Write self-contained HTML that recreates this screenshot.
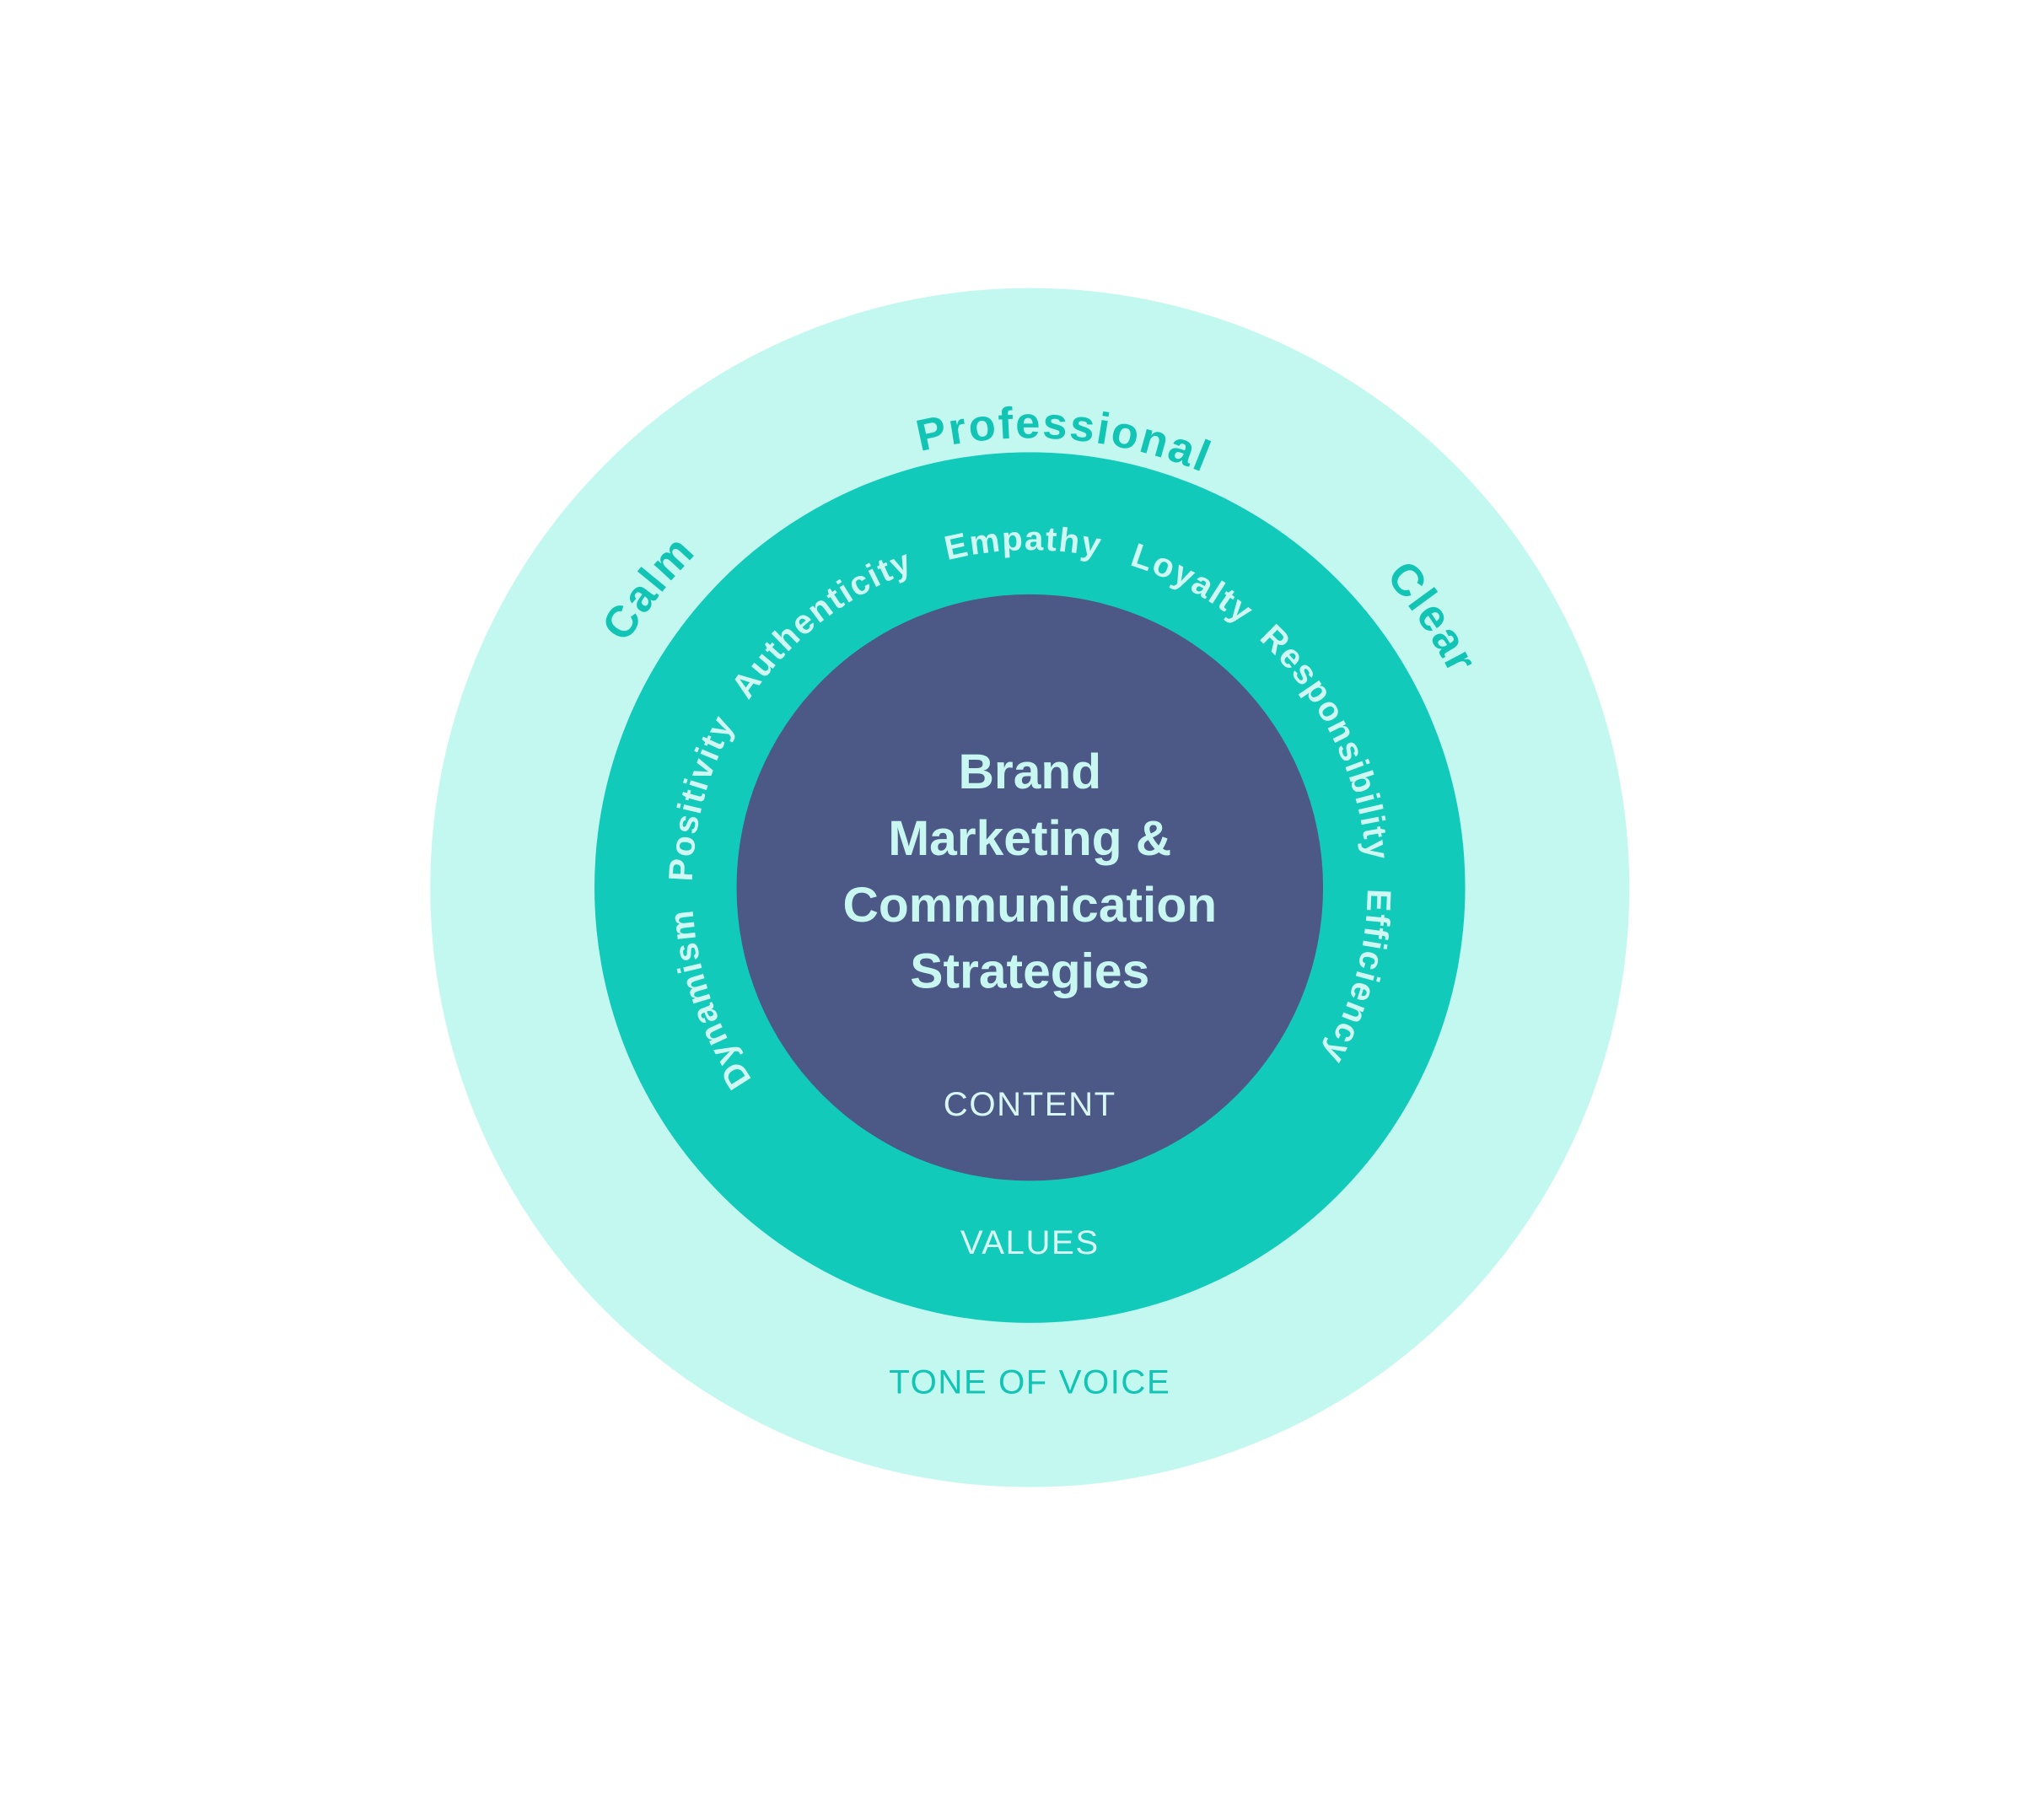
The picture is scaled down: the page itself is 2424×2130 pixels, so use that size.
<!DOCTYPE html>
<html><head><meta charset="utf-8"><style>
html,body{margin:0;padding:0;background:#fff;}
svg{display:block;}
text{font-family:"Liberation Sans",sans-serif;}
</style></head><body>
<svg width="2424" height="2130" viewBox="0 0 1568 1378" xmlns="http://www.w3.org/2000/svg">
<defs>
<path id="po" d="M790,1026 A345,345 0 1 1 790,336 A345,345 0 1 1 790,1026"/>
<path id="po2" d="M790,1043 A362,362 0 1 1 790,319 A362,362 0 1 1 790,1043"/>
<path id="pi" d="M790,940 A259,259 0 1 1 790,422 A259,259 0 1 1 790,940"/>
</defs>
<rect width="1568" height="1378" fill="#fff"/>
<circle cx="790" cy="681" r="460" fill="#c3f8f1"/>
<circle cx="790" cy="681" r="334" fill="#12cab9"/>
<circle cx="790" cy="681" r="225" fill="#4c5986"/>

<g fill="#12c4b4" font-size="34" font-weight="bold" letter-spacing="1.5" text-anchor="middle">
<text><textPath href="#po" startOffset="51.2%">Professional</textPath></text>
<text><textPath href="#po2" startOffset="35.6%">Calm</textPath></text>
<text><textPath href="#po2" startOffset="65.6%">Clear</textPath></text>
</g>

<g fill="#d0f8f3" font-size="26" font-weight="bold" letter-spacing="1.2" text-anchor="middle">
<text><textPath href="#pi" startOffset="49.7%">Empathy</textPath></text>
<text><textPath href="#pi" startOffset="57.8%">Loyalty</textPath></text>
<text><textPath href="#pi" startOffset="67.8%">Responsibility</textPath></text>
<text><textPath href="#pi" startOffset="79.2%">Efficiency</textPath></text>
<text><textPath href="#pi" startOffset="39.4%">Authenticity</textPath></text>
<text><textPath href="#pi" startOffset="29.2%">Positivity</textPath></text>
<text><textPath href="#pi" startOffset="19.7%">Dynamism</textPath></text>
</g>

<g fill="#c8f7f2" font-size="38" font-weight="bold" text-anchor="middle">
<text x="790" y="605">Brand</text>
<text x="790" y="656">Marketing &amp;</text>
<text x="790" y="707">Communication</text>
<text x="790" y="758">Strategies</text>
</g>
<text x="790" y="856" fill="#d8f7f3" font-size="26" text-anchor="middle" letter-spacing="1">CONTENT</text>
<text x="790" y="962" fill="#d8f7f3" font-size="26" text-anchor="middle" letter-spacing="1">VALUES</text>
<text x="790" y="1069" fill="#12c4b4" font-size="26" text-anchor="middle" letter-spacing="1">TONE OF VOICE</text>
</svg>
</body></html>
